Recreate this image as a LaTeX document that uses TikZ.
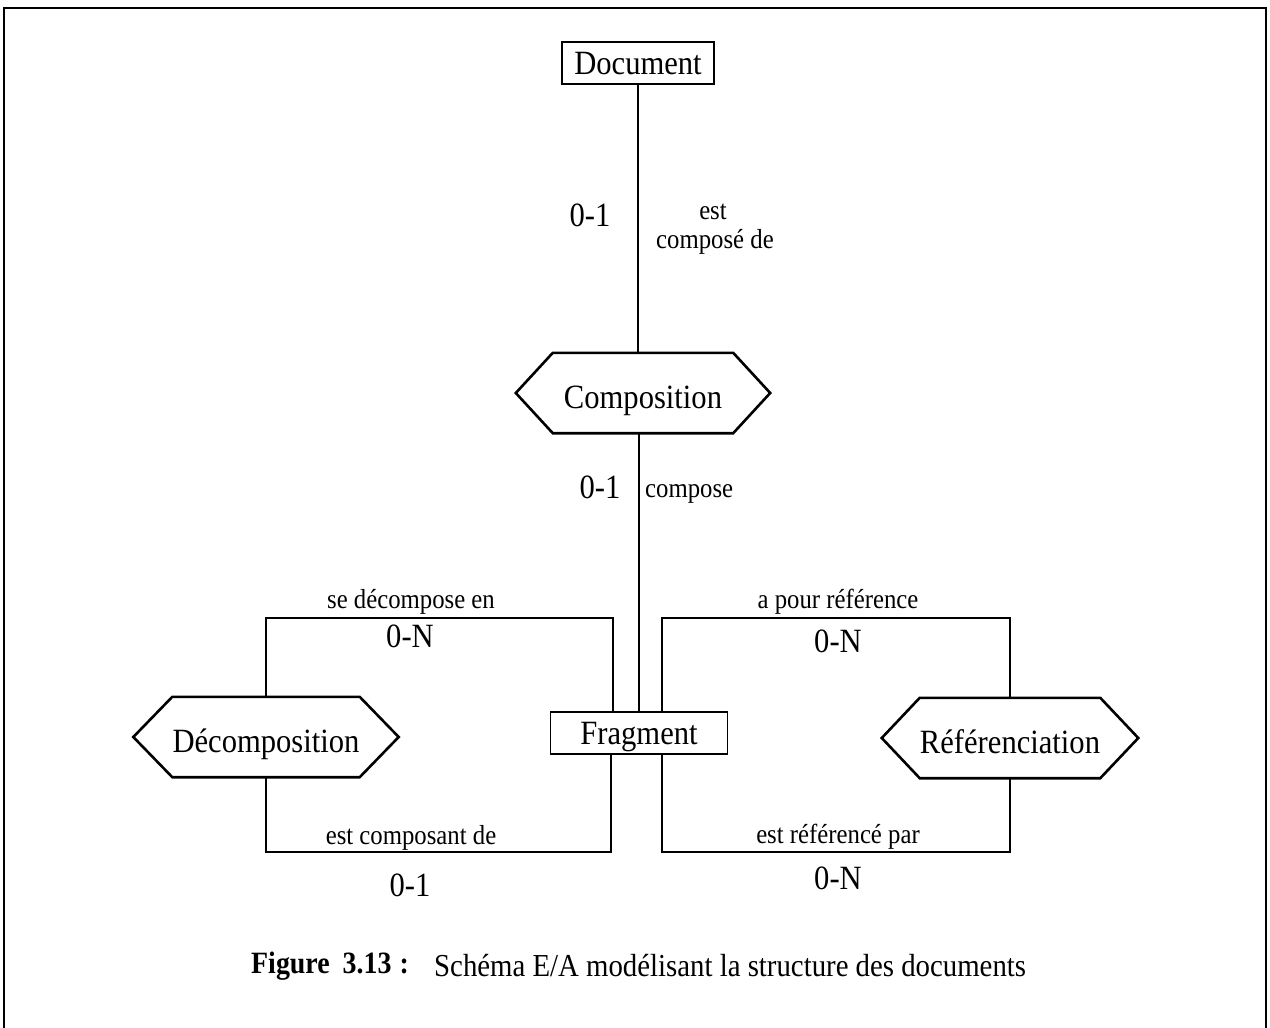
\documentclass[tikz,border=0pt]{standalone}
\usepackage{fontspec}
\setmainfont[FakeStretch=0.9]{Liberation Serif}
\begin{document}
\begin{tikzpicture}[x=1pt,y=-1pt,
  link/.style={line width=1.6pt},
  entity/.style={draw,line width=1.6pt,rectangle,inner sep=0pt,text height=23pt,text depth=0pt,font=\fontsize{34}{38}\selectfont},
  relbody/.style={rectangle,inner sep=0pt,minimum height=80pt,text height=30pt,text depth=0pt,font=\fontsize{34}{38}\selectfont},
  hexline/.style={line width=2.6pt,line join=miter},
  role/.style={inner sep=0pt,text height=18pt,text depth=0pt,font=\fontsize{27.5}{32}\selectfont},
  card/.style={inner sep=0pt,text height=23pt,text depth=0pt,font=\fontsize{34}{38}\selectfont}]
\useasboundingbox (0,0) rectangle (1270,1028);
% outer frame, open at the bottom
\draw[line width=2.4pt] (4,1028) -- (4,8) -- (1266,8) -- (1266,1028);

\newcommand{\hexaround}[2]{%
  \draw[hexline] (#1.north west) -- (#1.north east) -- ([xshift=#2]#1.east)
    -- (#1.south east) -- (#1.south west) -- ([xshift=-#2]#1.west) -- cycle;}

% entities
\node[entity,minimum width=152pt,minimum height=42pt] (doc) at (638,63) {Document};
\node[entity,minimum width=177pt,minimum height=42pt] (frag) at (639,733) {Fragment};

% relationships
\node[relbody,minimum width=180pt] (comp) at (643,393) {Composition};
\hexaround{comp}{37pt}
\node[relbody,minimum width=178pt] (deco) at (266,737) {Décomposition};
\hexaround{deco}{39pt}
\node[relbody,minimum width=179pt] (ref) at (1010,738) {Référenciation};
\hexaround{ref}{38pt}

\coordinate (topY) at (0,618);
\coordinate (botY) at (0,852);

% connectors
\draw[link] (doc.south) -- (doc.south |- comp.north);
\draw[link] (frag.north |- comp.south) -- (frag.north);
\draw[link] (deco.north) |- ([xshift=-26pt]frag.north |- topY) -- ([xshift=-26pt]frag.north);
\draw[link] (deco.south) |- ([xshift=-28pt]frag.south |- botY) -- ([xshift=-28pt]frag.south);
\draw[link] (ref.north) |- ([xshift=23pt]frag.north |- topY) -- ([xshift=23pt]frag.north);
\draw[link] (ref.south) |- ([xshift=23pt]frag.south |- botY) -- ([xshift=23pt]frag.south);

% roles and cardinalities
\node[role] (r1a) at (713,210) {est};
\node[role] (r1b) at (715,239) {composé de};
\node[card] (c1) at (590,215) {0-1};
\node[card] (c2) at (600,487) {0-1};
\node[role,anchor=west] (r2) at (645,488) {compose};
\node[role] (r3) at (411,599) {se décompose en};
\node[card] (c3) at (410,636) {0-N};
\node[role] (r4) at (411,835) {est composant de};
\node[card] (c4) at (410,885) {0-1};
\node[role] (r5) at (838,599) {a pour référence};
\node[card] (c5) at (838,641) {0-N};
\node[role] (r6) at (838,834) {est référencé par};
\node[card] (c6) at (838,878) {0-N};

% caption
\node[inner sep=0pt,anchor=west,font=\fontsize{31}{36}\selectfont\bfseries] (figno) at (251,966) {Figure\hspace{13pt}3.13\hspace{8pt}:};
\node[inner sep=0pt,anchor=west,font=\fontsize{32}{36}\selectfont] (figcap) at (434,966) {Schéma E/A modélisant la structure des documents};
\end{tikzpicture}
\end{document}
